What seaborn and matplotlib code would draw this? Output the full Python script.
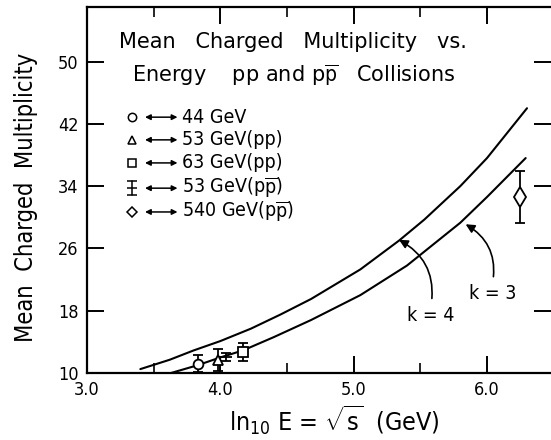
import os
import matplotlib
matplotlib.use("Agg")
import matplotlib.pyplot as plt
import seaborn as sns
import pandas as pd
from matplotlib import font_manager as fm

# ---------------- data ----------------
k4_x = [3.40, 3.62, 3.80, 4.00, 4.23, 4.45, 4.68, 5.05, 5.34, 5.53, 5.80, 6.00, 6.30]
k4_y = [10.5, 11.7, 12.9, 14.1, 15.7, 17.5, 19.5, 23.3, 27.0, 29.7, 34.0, 37.6, 44.0]
k3_x = [3.63, 3.83, 4.00, 4.17, 4.40, 4.68, 5.05, 5.40, 5.80, 6.00, 6.29]
k3_y = [10.0, 11.0, 12.0, 12.9, 14.6, 16.8, 20.0, 23.8, 29.3, 32.6, 37.6]

pt_labels = ["44 GeV", "53 GeV(pp)", "63 GeV(pp)",
             r"53 GeV(p$\overline{\mathrm{p}}$)", r"540 GeV(p$\overline{\mathrm{p}}$)"]
pt_x = [3.83, 3.98, 4.17, 4.04, 6.25]
pt_y = [11.2, 11.7, 12.7, 12.1, 32.6]
pt_err = [1.1, 1.4, 1.2, 0.5, 3.4]
pt_markers = ["o", "^", "s", "_", "d"]

x_ticks = [3.0, 4.0, 5.0, 6.0]
x_tick_labels = ["3.0", "4.0", "5.0", "6.0"]
x_minor = [3.5, 4.5, 5.5]
y_ticks = [10, 18, 26, 34, 42, 50]

# ---------------- style ----------------
sns.set_theme(style="ticks")
chosen = None
for cand in ["dejavusanscondensed.ttf", "liberationsansnarrow-regular.ttf",
             "robotocondensed-regular.ttf"]:
    for f in fm.fontManager.ttflist:
        if os.path.basename(f.fname).lower() == cand:
            chosen = f
            break
    if chosen:
        break
if chosen is not None:
    fam = chosen.name
    plt.rcParams["font.stretch"] = chosen.stretch
else:
    fam = "DejaVu Sans"
plt.rcParams["font.family"] = [fam, "DejaVu Sans"]
plt.rcParams["mathtext.fontset"] = "custom"
plt.rcParams["mathtext.rm"] = fam
plt.rcParams["mathtext.it"] = fam
plt.rcParams["mathtext.sf"] = fam
plt.rcParams["text.color"] = "black"
plt.rcParams["axes.labelcolor"] = "black"

fig = plt.figure(figsize=(5.51, 4.40), dpi=100)
ax = fig.add_axes([87 / 551, 67 / 440, 464 / 551, 366 / 440])
ax.set_facecolor("white")

# curves
df4 = pd.DataFrame({"x": k4_x, "y": k4_y})
df3 = pd.DataFrame({"x": k3_x, "y": k3_y})
sns.lineplot(data=df4, x="x", y="y", ax=ax, color="black", lw=1.5, sort=False, estimator=None)
sns.lineplot(data=df3, x="x", y="y", ax=ax, color="black", lw=1.5, sort=False, estimator=None)

# data points
for x, y, e, m in zip(pt_x, pt_y, pt_err, pt_markers):
    ms = {"_": 9, "d": 10}.get(m, 7)
    ax.errorbar(x, y, yerr=e, fmt=m, mfc="white", mec="black", color="black",
                ms=ms, mew=1.3, capsize=3.5, elinewidth=1.3, capthick=1.3, zorder=4)

# annotations k=4, k=3
ax.annotate("k = 4", xy=(5.34, 27.1), xytext=(5.58, 17.4), ha="center", va="center",
            fontsize=14,
            arrowprops=dict(arrowstyle="-|>", connectionstyle="arc3,rad=0.35", color="black",
                            lw=1.2, relpos=(0.5, 1.0), shrinkA=3, shrinkB=0, mutation_scale=13))
ax.annotate("k = 3", xy=(5.84, 29.1), xytext=(6.04, 20.2), ha="center", va="center",
            fontsize=14,
            arrowprops=dict(arrowstyle="-|>", connectionstyle="arc3,rad=0.35", color="black",
                            lw=1.2, relpos=(0.5, 1.0), shrinkA=3, shrinkB=0, mutation_scale=13))

# title block
title_font = dict(family=["DejaVu Sans"], stretch="normal", fontsize=15)
ax.text(0.443, 0.904, "Mean   Charged   Multiplicity   vs.", transform=ax.transAxes,
        ha="center", va="center", **title_font)
ax.text(0.445, 0.814, r"Energy    pp and p$\overline{\mathrm{p}}$   Collisions",
        transform=ax.transAxes, ha="center", va="center", **title_font)

# legend block (layout in axes fraction)
row_y = [0.699, 0.637, 0.574, 0.505, 0.440]
mk_x = 0.097
ar_x0, ar_x1 = 0.125, 0.195
tx_x = 0.205
for ry, lab, m in zip(row_y, pt_labels, pt_markers):
    if m == "_":
        d = 0.02
        ax.plot([mk_x, mk_x], [ry - d, ry + d], color="black", lw=1.1, transform=ax.transAxes)
        ax.plot([mk_x] * 3, [ry - d, ry, ry + d], ls="none", marker="_", ms=7, mew=1.1,
                color="black", transform=ax.transAxes)
    else:
        ax.plot([mk_x], [ry], ls="none", marker="D" if m == "d" else m,
                ms=5.5 if m == "d" else 6, mfc="white",
                mec="black", mew=1.1, transform=ax.transAxes)
    ax.annotate("", xy=(ar_x1, ry), xytext=(ar_x0, ry), xycoords="axes fraction",
                textcoords="axes fraction",
                arrowprops=dict(arrowstyle="<|-|>", color="black", lw=1.1, shrinkA=0,
                                shrinkB=0, mutation_scale=8))
    ax.text(tx_x, ry, lab, transform=ax.transAxes, ha="left", va="center", fontsize=14)

# axes
ax.set_xlim(3.0, 6.48)
ax.set_ylim(10, 57)
ax.set_xticks(x_ticks)
ax.set_xticklabels(x_tick_labels)
ax.set_xticks(x_minor, minor=True)
ax.set_yticks(y_ticks)
ax.tick_params(which="major", direction="in", top=True, right=True, length=12, width=1.4,
               labelsize=13, colors="black", pad=6)
ax.tick_params(which="minor", direction="in", top=True, length=7, width=1.4)
for s in ["left", "bottom", "top"]:
    ax.spines[s].set_linewidth(1.6)
    ax.spines[s].set_color("black")
ax.spines["right"].set_visible(False)

ax.set_xlabel(r"ln$_{10}$ E = $\sqrt{\mathrm{s}}$  (GeV)", fontsize=18)
ax.xaxis.set_label_coords(0.534, -0.082)
ax.set_ylabel("Mean  Charged  Multiplicity", fontsize=17)
ax.yaxis.set_label_coords(-0.105, 0.479)

fig.savefig("out.png", dpi=100, facecolor="white")
